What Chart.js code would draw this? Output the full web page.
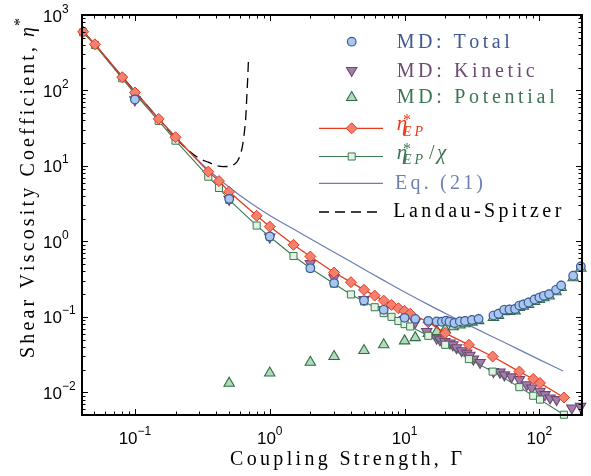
<!DOCTYPE html>
<html>
<head>
<meta charset="utf-8">
<script src="https://cdn.jsdelivr.net/npm/chart.js@4.4.0/dist/chart.umd.min.js"></script>
<style>
html,body{margin:0;padding:0;background:#fff;}
#c{display:block;}
</style>
</head>
<body>
<canvas id="c" width="591" height="476"></canvas>
<script>
// ---------------- DATA ----------------
const xTickValues = [0.1, 1, 10, 100];
const xTickExps   = ['\u22121', '0', '1', '2'];
const yTickValues = [0.01, 0.1, 1, 10, 100, 1000];
const yTickExps   = ['\u22122', '\u22121', '0', '1', '2', '3'];

const seriesNames = ['MD: Total', 'MD: Kinetic', 'MD: Potential', 'EP', 'EP/chi', 'Eq. (21)', 'Landau-Spitzer'];

// MD: Total (circles)
const totalX = [0.1, 0.5, 1, 2, 3, 5, 7, 10, 12, 15, 17.3, 18.9, 20.3, 21.5, 23.4, 25.7, 28.1, 31.6, 35.4,
                45.6, 49.7, 54.8, 60, 66, 71, 76, 83, 92, 100, 108, 118, 133, 145, 178, 203];
const totalY = [76, 3.66, 1.16, 0.44, 0.28, 0.165, 0.124, 0.097, 0.094, 0.0885, 0.087, 0.086, 0.089, 0.086, 0.083, 0.087, 0.088, 0.091, 0.094,
                0.104, 0.11, 0.124, 0.125, 0.127, 0.141, 0.146, 0.155, 0.17, 0.18, 0.19, 0.2, 0.228, 0.26, 0.35, 0.466];

// MD: Kinetic (down triangles)
const kinX = [0.1, 0.5, 1, 2, 3, 5, 7, 10, 12, 14.6, 17.3, 18.3, 19.9, 21.7, 22.8, 24.3, 26.5, 28.9, 30.5, 32.4, 36.3,
              45.6, 51, 55, 62, 71, 80.5, 87.7, 101, 110, 120, 134, 174, 202];
const kinY = [75, 3.6, 1.14, 0.51, 0.33, 0.17, 0.125, 0.092, 0.085, 0.064, 0.052, 0.0496, 0.047, 0.0449, 0.0426, 0.039, 0.0355, 0.033, 0.031, 0.0275, 0.0248,
              0.0188, 0.0185, 0.017, 0.016, 0.0147, 0.0126, 0.0114, 0.0103, 0.0093, 0.0084, 0.008, 0.0062, 0.0065];

// MD: Potential (up triangles)
const potX = [0.5, 1, 2, 3, 5, 7, 10, 12, 15, 17.4, 20, 23, 25.7, 28.1, 31.6, 35.4, 45.6, 49.7, 54.8, 60, 66, 71, 76, 83, 92, 100, 108, 118, 133, 145, 178, 203];
const potY = [0.0132, 0.018, 0.025, 0.0298, 0.0358, 0.0426, 0.048, 0.053, 0.06, 0.064, 0.068, 0.074, 0.078, 0.081, 0.085, 0.089, 0.098, 0.104, 0.117, 0.118, 0.12, 0.133, 0.138, 0.146, 0.16, 0.17, 0.179, 0.189, 0.215, 0.245, 0.33, 0.44];

// eta*_EP (red diamonds + line) and eta*_EP / chi (green squares + line)
const epX  = [0.0413, 0.0505, 0.0805, 0.1, 0.15, 0.2, 0.35, 0.42, 0.5, 0.8, 1, 1.5, 2, 3, 4, 5, 6, 7, 8, 9, 10, 11, 15, 20, 30, 45, 71, 90, 101, 152];
const epY  = [600, 409, 150, 94, 42, 24, 8.4, 6.3, 4.55, 2.18, 1.57, 0.9, 0.63, 0.386, 0.288, 0.228, 0.191, 0.164, 0.144, 0.13, 0.12, 0.11, 0.085, 0.0608, 0.0426, 0.0298, 0.0188, 0.015, 0.01325, 0.00853];
const chiY = [590, 400, 145, 90, 39.5, 21.6, 7.2, 5.1, 3.55, 1.62, 1.15, 0.64, 0.44, 0.275, 0.198, 0.16, 0.134, 0.112, 0.1, 0.088, 0.08, 0.0745, 0.056, 0.0426, 0.0275, 0.0188, 0.0117, 0.009, 0.008, 0.00504];

// Eq. (21) (thin blue line)
const eqX = [0.0413, 0.05, 0.07, 0.1, 0.15, 0.2, 0.25, 0.3, 0.35, 0.5, 0.7, 1, 1.5, 2, 3, 5, 7, 10, 15, 20, 30, 50, 70, 100, 150];
const eqY = [599, 418, 207, 98.2, 42.7, 24.3, 15.9, 11.5, 8.91, 5.21, 3.34, 2.2, 1.455, 1.086, 0.719, 0.428, 0.304, 0.213, 0.145, 0.1117, 0.0776, 0.0496, 0.037, 0.0271, 0.0191];

// Landau-Spitzer (dashed black)
const lsX = [0.0413, 0.05, 0.07, 0.1, 0.15, 0.2, 0.25, 0.3, 0.35, 0.4, 0.45, 0.5, 0.55, 0.58, 0.61, 0.63, 0.645, 0.655, 0.665, 0.674, 0.682, 0.689, 0.694];
const lsY = [600, 412, 200, 96, 42, 23.5, 16, 12.6, 11.2, 10.1, 9.8, 9.85, 10.6, 11.8, 14.8, 19, 26, 33, 46, 75, 115, 170, 240];

// ---------------- STYLE ----------------
const COL = {
  totalFill: '#a9c7ec', totalLine: '#3c5a99',
  kinFill: '#a27ea8', kinLine: '#6f4577',
  potFill: '#b3dbbb', potLine: '#2f6d46',
  epFill: '#f4806f', epLine: '#e63a1e',
  chiFill: '#e2f1e2', chiLine: '#3b7a50',
  eq: '#6b7db3', ls: '#000000'
};
const SERIF = "'Liberation Serif', 'Times New Roman', serif";
const SANS = "'Liberation Sans', Arial, sans-serif";

const pts = (xs, ys) => xs.map((v, i) => ({x: v, y: ys[i]}));

function drawMarker(ctx, style, x, y, r, fill, stroke, lw) {
  ctx.save();
  ctx.beginPath();
  if (style === 'circle') {
    ctx.arc(x, y, r, 0, Math.PI * 2);
  } else if (style === 'triUp' || style === 'triDown') {
    const s = style === 'triUp' ? 1 : -1;
    for (let k = 0; k < 3; k++) {
      const a = -Math.PI / 2 * s + k * 2 * Math.PI / 3;
      const px = x + Math.cos(a) * r, py = y + Math.sin(a) * r;
      if (k === 0) ctx.moveTo(px, py); else ctx.lineTo(px, py);
    }
    ctx.closePath();
  } else if (style === 'diamond') {
    ctx.moveTo(x - r, y); ctx.lineTo(x, y - r); ctx.lineTo(x + r, y); ctx.lineTo(x, y + r); ctx.closePath();
  } else if (style === 'square') {
    const h = r * Math.SQRT1_2;
    ctx.rect(x - h, y - h, 2 * h, 2 * h);
  }
  ctx.fillStyle = fill; ctx.fill();
  ctx.lineWidth = lw; ctx.strokeStyle = stroke; ctx.stroke();
  ctx.restore();
}

function spaced(ctx, text, x, y, width) {
  const chars = [...text];
  const ws = chars.map(c => ctx.measureText(c).width);
  const w = ws.reduce((a, b) => a + b, 0);
  const ls = chars.length > 1 ? (width - w) / (chars.length - 1) : 0;
  let cx = x;
  chars.forEach((c, i) => { ctx.fillText(c, cx, y); cx += ws[i] + ls; });
  return cx;
}

const framePlugin = {
  id: 'framePlugin',
  afterDatasetsDraw(chart) {
    const ctx = chart.ctx, a = chart.chartArea, xs = chart.scales.x, ys = chart.scales.y;
    ctx.save();
    // inward ticks on all four sides
    ctx.strokeStyle = '#000'; ctx.lineWidth = 1;
    ctx.beginPath();
    for (let d = -3; d <= 3; d++) {
      for (let m = 1; m <= 9; m++) {
        const v = m * Math.pow(10, d);
        const L = m === 1 ? 6 : 3.5;
        if (v >= xs.min * 0.999 && v <= xs.max * 1.001) {
          const px = Math.round(xs.getPixelForValue(v)) + 0.5;
          ctx.moveTo(px, a.bottom); ctx.lineTo(px, a.bottom - L);
          ctx.moveTo(px, a.top); ctx.lineTo(px, a.top + L);
        }
        if (v >= ys.min * 0.999 && v <= ys.max * 1.001) {
          const py = Math.round(ys.getPixelForValue(v)) + 0.5;
          ctx.moveTo(a.left, py); ctx.lineTo(a.left + L, py);
          ctx.moveTo(a.right, py); ctx.lineTo(a.right - L, py);
        }
      }
    }
    ctx.stroke();
    ctx.lineWidth = 2;
    ctx.strokeRect(a.left, a.top, a.right - a.left, a.bottom - a.top);

    // tick labels
    ctx.fillStyle = '#000';
    ctx.textBaseline = 'alphabetic';
    ctx.textAlign = 'left';
    xTickValues.forEach((v, i) => {
      const px = xs.getPixelForValue(v);
      ctx.font = '17px ' + SANS; const w1 = ctx.measureText('10').width;
      ctx.font = '12px ' + SANS; const w2 = ctx.measureText(xTickExps[i]).width;
      const x0 = px - (w1 + w2) / 2;
      ctx.font = '17px ' + SANS; ctx.fillText('10', x0, 443.5);
      ctx.font = '12px ' + SANS; ctx.fillText(xTickExps[i], x0 + w1, 435);
    });
    yTickValues.forEach((v, i) => {
      const py = ys.getPixelForValue(v);
      ctx.font = '17px ' + SANS; const w1 = ctx.measureText('10').width;
      ctx.fillText('10', 43, py + 6.5);
      ctx.font = '12px ' + SANS; ctx.fillText(yTickExps[i], 43 + w1, py - 2.5);
    });

    // axis titles
    ctx.font = '20px ' + SERIF; ctx.fillStyle = '#000';
    spaced(ctx, 'Coupling Strength, \u0393', 230, 465, 232);
    ctx.save();
    ctx.translate(34, 358);
    ctx.rotate(-Math.PI / 2);
    ctx.font = '20px ' + SERIF;
    spaced(ctx, 'Shear Viscosity Coefficient,', 0, 0, 311);
    ctx.font = 'italic 20px ' + SERIF;
    ctx.fillText('\u03b7', 321, 0);
    ctx.font = '16px ' + SERIF;
    ctx.fillText('*', 332, -9);
    ctx.restore();

    // legend
    const LX = 351.7, L0 = 319, L1 = 383;
    const txt = (t, x, y, w, color) => { ctx.font = '20px ' + SERIF; ctx.fillStyle = color; spaced(ctx, t, x, y, w); };
    drawMarker(ctx, 'circle', LX, 41.7, 4.3, COL.totalFill, COL.totalLine, 1.2);
    txt(seriesNames[0], 396.7, 47.5, 113, '#3d5993');
    drawMarker(ctx, 'triDown', LX, 70.5, 6, COL.kinFill, COL.kinLine, 1.1);
    txt(seriesNames[1], 396.7, 76.5, 138, '#6e4a72');
    drawMarker(ctx, 'triUp', LX, 97.5, 6, COL.potFill, COL.potLine, 1.1);
    txt(seriesNames[2], 396.7, 102.5, 158, '#3b7552');

    const mathEta = (y, color) => {
      ctx.fillStyle = color;
      ctx.font = 'italic 21px ' + SERIF; ctx.fillText('\u03b7', 396.7, y + 2);
      ctx.font = '16px ' + SERIF; ctx.fillText('*', 403, y - 3);
      ctx.font = 'italic 14px ' + SERIF; return spaced(ctx, 'EP', 403, y + 7.5, 20);
    };
    // eta*_EP
    ctx.lineWidth = 1.3; ctx.strokeStyle = COL.epLine; ctx.setLineDash([]);
    ctx.beginPath(); ctx.moveTo(L0, 128.3); ctx.lineTo(L1, 128.3); ctx.stroke();
    drawMarker(ctx, 'diamond', LX, 128.3, 5.5, COL.epFill, COL.epLine, 1);
    mathEta(128.3, COL.epLine);

    // eta*_EP / chi
    ctx.lineWidth = 1.1; ctx.strokeStyle = COL.chiLine;
    ctx.beginPath(); ctx.moveTo(L0, 156.5); ctx.lineTo(L1, 156.5); ctx.stroke();
    drawMarker(ctx, 'square', LX, 156.5, 5, COL.chiFill, COL.chiLine, 1);
    const ex = mathEta(156.5, '#3b7552');
    ctx.font = '20px ' + SERIF; ctx.fillText('/', ex + 3, 158.5);
    ctx.font = 'italic 21px ' + SERIF; ctx.fillText('\u03c7', ex + 11, 158.5);

    // Eq. (21)
    ctx.lineWidth = 1.2; ctx.strokeStyle = COL.eq;
    ctx.beginPath(); ctx.moveTo(L0, 183.3); ctx.lineTo(L1, 183.3); ctx.stroke();
    txt(seriesNames[5], 395, 188.5, 88, '#6d80b6');

    // Landau-Spitzer
    ctx.lineWidth = 1.3; ctx.strokeStyle = '#000'; ctx.setLineDash([10, 6]);
    ctx.beginPath(); ctx.moveTo(L0, 212); ctx.lineTo(L1 - 2, 212); ctx.stroke();
    ctx.setLineDash([]);
    txt(seriesNames[6], 393.3, 217, 168, '#000');
    ctx.restore();
  }
};

new Chart(document.getElementById('c'), {
  type: 'scatter',
  data: {
    datasets: [
      { label: seriesNames[0], data: pts(totalX, totalY), showLine: false, pointStyle: 'circle', pointRadius: 4.3,
        pointBorderWidth: 1.2, pointBackgroundColor: COL.totalFill, pointBorderColor: COL.totalLine, order: 0, clip: false },
      { label: seriesNames[3], data: pts(epX, epY), showLine: true, borderColor: COL.epLine, borderWidth: 1.3,
        pointStyle: 'rectRot', pointRadius: 5.5, pointBorderWidth: 1, pointBackgroundColor: COL.epFill, pointBorderColor: COL.epLine, order: 1, clip: false },
      { label: seriesNames[4], data: pts(epX, chiY), showLine: true, borderColor: COL.chiLine, borderWidth: 1.1,
        pointStyle: 'rect', pointRadius: 5, pointBorderWidth: 1, pointBackgroundColor: COL.chiFill, pointBorderColor: COL.chiLine, order: 2, clip: false },
      { label: seriesNames[1], data: pts(kinX, kinY), showLine: false, pointStyle: 'triangle', pointRotation: 180, pointRadius: 6,
        pointBorderWidth: 1.1, pointBackgroundColor: COL.kinFill, pointBorderColor: COL.kinLine, order: 3, clip: false },
      { label: seriesNames[2], data: pts(potX, potY), showLine: false, pointStyle: 'triangle', pointRadius: 6,
        pointBorderWidth: 1.1, pointBackgroundColor: COL.potFill, pointBorderColor: COL.potLine, order: 4, clip: false },
      { label: seriesNames[6], data: pts(lsX, lsY), showLine: true, borderColor: COL.ls, borderWidth: 1.3, borderDash: [10, 6],
        pointRadius: 0, cubicInterpolationMode: 'monotone', order: 5, clip: false },
      { label: seriesNames[5], data: pts(eqX, eqY), showLine: true, borderColor: COL.eq, borderWidth: 1.2,
        pointRadius: 0, cubicInterpolationMode: 'monotone', order: 6, clip: false }
    ]
  },
  options: {
    responsive: false,
    animation: false,
    devicePixelRatio: 1,
    layout: { padding: { left: 82, right: 9, top: 15, bottom: 61 } },
    plugins: { legend: { display: false }, tooltip: { enabled: false } },
    scales: {
      x: { type: 'logarithmic', min: 0.0405, max: 207, display: false },
      y: { type: 'logarithmic', min: 0.005, max: 1000, display: false }
    }
  },
  plugins: [framePlugin]
});
</script>
</body>
</html>
